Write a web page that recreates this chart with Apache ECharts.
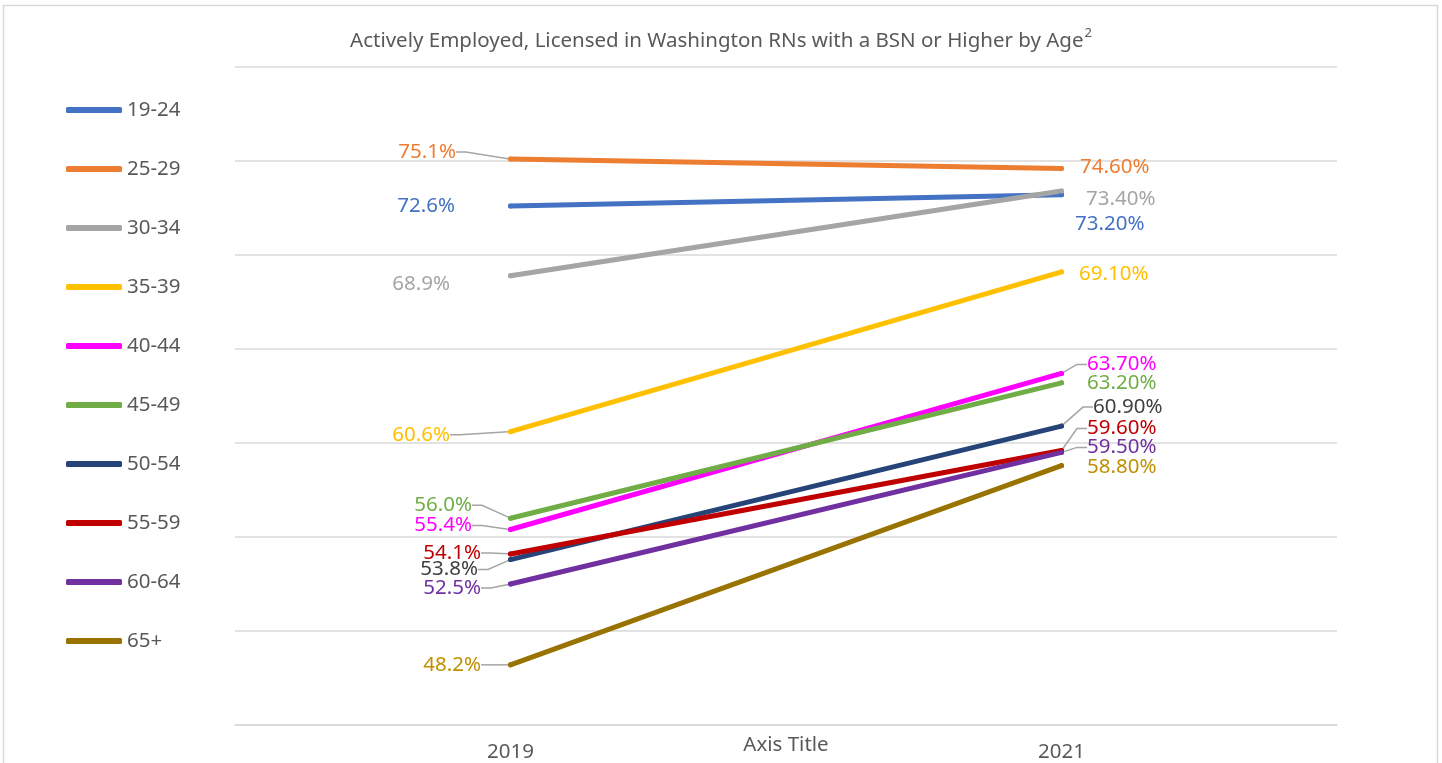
<!DOCTYPE html>
<html>
<head>
<meta charset="utf-8">
<title>Washington RNs with a BSN or Higher by Age</title>
<script src="https://cdn.jsdelivr.net/npm/echarts@6/dist/echarts.min.js"></script>
<style>
    html, body { margin: 0; padding: 0; background: #fff; }
    #main { width: 1442px; height: 763px; }
</style>
</head>
<body>
<div id="main"></div>
<script>
    // data
    var years = ['2019', '2021'];
    var ageGroups = ['19-24', '25-29', '30-34', '35-39', '40-44', '45-49', '50-54', '55-59', '60-64', '65+'];
    var pct2019 = [72.6, 75.1, 68.9, 60.6, 55.4, 56.0, 53.8, 54.1, 52.5, 48.2];
    var pct2021 = [73.2, 74.6, 73.4, 69.1, 63.7, 63.2, 60.9, 59.6, 59.5, 58.8];

    // styling per series
    var lineColors = ['#4472C4', '#ED7D31', '#A5A5A5', '#FFC000', '#FF00FF', '#70AD47', '#264478', '#C00000', '#7030A0', '#997300'];
    var labelColors = ['#4472C4', '#ED7D31', '#A5A5A5', '#FFC000', '#FF00FF', '#70AD47', '#404040', '#C00000', '#7030A0', '#BF9000'];
    // label nudges [dx, dy] for 2019 and 2021 points, and whether a leader line is drawn
    var nudge2019 = [[-48, 0], [-47, -7], [-53, 8], [-53, 3], [-31, -4], [-31, -13], [-25, 10], [-22, -1], [-22, 4], [-22, 0]];
    var nudge2021 = [[6, 29], [11, -1], [17, 8], [10, 2], [18, -9], [18, 0], [24, -19], [18, -22], [18, -5], [18, 2]];
    var leader2019 = [false, true, false, true, true, true, true, true, true, true];
    var leader2021 = [false, false, false, false, true, false, true, true, true, false];

    var font = 'Noto Sans';
    var textGray = '#595959';
    var gridGray = '#D9D9D9';

    var series = ageGroups.map(function(name, i) {
        return {
            name: name,
            type: 'line',
            data: [
                { value: pct2019[i], label: { position: 'left' }, labelLine: { show: leader2019[i] } },
                { value: pct2021[i], label: { position: 'right' }, labelLine: { show: leader2021[i] } }
            ],
            symbol: 'circle',
            symbolSize: 5,
            lineStyle: { color: lineColors[i], width: 5, cap: 'round' },
            itemStyle: { color: lineColors[i] },
            emphasis: { disabled: true },
            label: {
                show: true,
                color: labelColors[i],
                fontFamily: font,
                fontSize: 20.5,
                formatter: function(p) {
                    return p.dataIndex === 0 ? p.value.toFixed(1) + '%' : p.value.toFixed(2) + '%';
                }
            },
            labelLine: {
                show: false,
                length2: 10,
                lineStyle: { color: '#A5A5A5', width: 1.5 }
            },
            labelLayout: function(params) {
                var n = params.dataIndex === 0 ? nudge2019[i] : nudge2021[i];
                return { dx: n[0], dy: n[1] };
            }
        };
    });

    var chart = echarts.init(document.getElementById('main'));
    chart.setOption({
        animation: false,
        graphic: [{
            type: 'rect',
            silent: true,
            shape: { x: 3.5, y: 5.5, width: 1434, height: 800 },
            style: { fill: 'none', stroke: gridGray, lineWidth: 1.5 }
        }],
        title: {
            text: 'Actively Employed, Licensed in Washington RNs with a BSN or Higher by Age{sup|2}',
            left: 'center',
            top: 22,
            textStyle: {
                color: textGray,
                fontFamily: font,
                fontSize: 20.5,
                fontWeight: 'normal',
                lineHeight: 28,
                rich: {
                    sup: { fontSize: 13, fontFamily: font, color: textGray, verticalAlign: 'top', lineHeight: 14, padding: [0, 0, 8, 1] }
                }
            }
        },
        legend: {
            orient: 'vertical',
            left: 61,
            top: 93,
            itemGap: 35,
            itemWidth: 56,
            itemHeight: 6,
            icon: 'roundRect',
            selectedMode: false,
            textStyle: { color: textGray, fontFamily: font, fontSize: 20.5, lineHeight: 24 },
            data: ageGroups
        },
        grid: { left: 235, right: 105, top: 67, bottom: 38, outerBoundsMode: 'none' },
        xAxis: {
            type: 'category',
            data: years,
            boundaryGap: true,
            name: 'Axis Title',
            nameLocation: 'middle',
            nameGap: 10,
            nameMoveOverlap: false,
            nameTextStyle: { color: textGray, fontFamily: font, fontSize: 20.5 },
            axisLine: { show: true, lineStyle: { color: gridGray, width: 1.5 } },
            axisTick: { show: false },
            axisLabel: { color: textGray, fontFamily: font, fontSize: 20.5, margin: 17 }
        },
        yAxis: {
            type: 'value',
            min: 45,
            max: 80,
            interval: 5,
            axisLine: { show: false },
            axisTick: { show: false },
            axisLabel: { show: false },
            splitLine: { lineStyle: { color: gridGray, width: 1.5 } }
        },
        series: series
    });
</script>
</body>
</html>
